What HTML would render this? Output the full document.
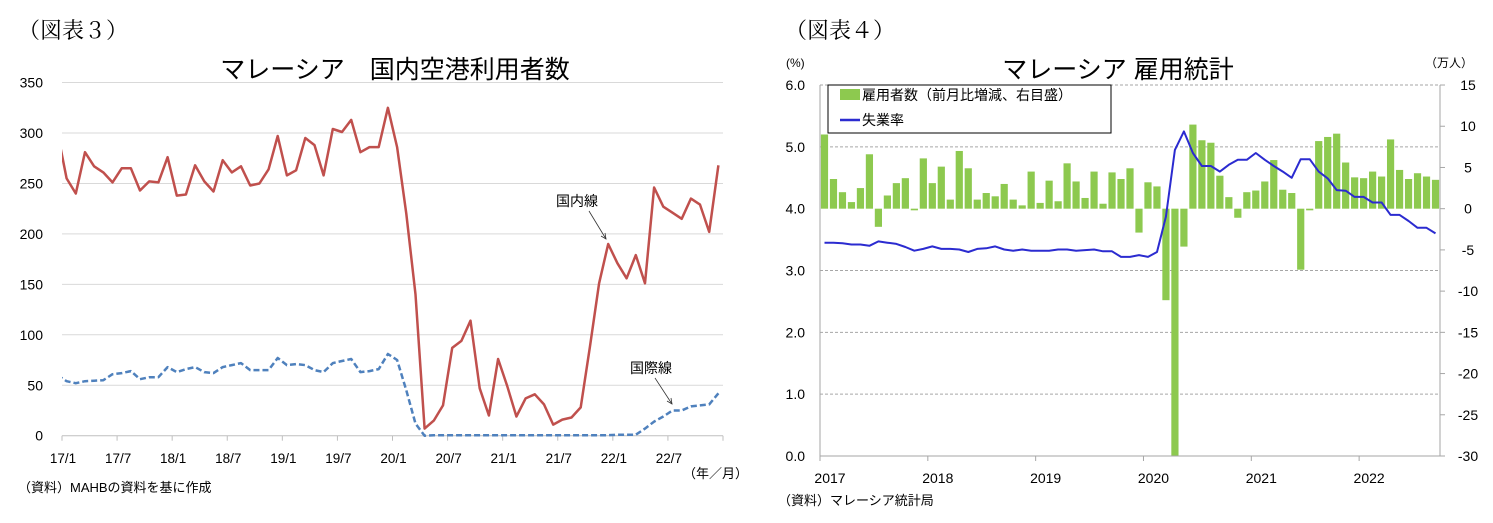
<!DOCTYPE html>
<html><head><meta charset="utf-8"><style>
html,body{margin:0;padding:0;background:#fff;}
svg{display:block;font-family:"Liberation Sans","Noto Sans CJK JP",sans-serif;}
</style></head><body>
<svg id="s" width="1493" height="523" viewBox="0 0 1493 523">
<defs>
<clipPath id="lc"><rect x="62" y="70" width="661" height="370"/></clipPath>
</defs>
<text x="18" y="38" font-size="22" font-family="Liberation Serif,'Noto Serif CJK SC',serif">（図表３）</text>
<text x="395" y="78" font-size="25" text-anchor="middle">マレーシア　国内空港利用者数</text>
<text x="785" y="38" font-size="22" font-family="Liberation Serif,'Noto Serif CJK SC',serif">（図表４）</text>
<text x="1118" y="78" font-size="25" text-anchor="middle">マレーシア 雇用統計</text>
<g id="L"></g>
<g id="R"></g>
<text x="18" y="492" font-size="13">（資料）MAHBの資料を基に作成</text>
<text x="683" y="478" font-size="13">（年／月）</text>
<text x="778" y="505" font-size="13">（資料）マレーシア統計局</text>
<text x="786" y="67" font-size="12">(%)</text>
<text x="1425" y="67" font-size="12">（万人）</text>
<text x="556" y="206" font-size="14">国内線</text>
<text x="630" y="373" font-size="14">国際線</text>
<line x1="589" y1="211" x2="606" y2="239" stroke="#333" stroke-width="0.8"/>
<path d="M601,236 L606,239 L605,233" fill="none" stroke="#333" stroke-width="0.8"/>
<line x1="655" y1="378" x2="672" y2="404" stroke="#333" stroke-width="0.8"/>
<path d="M667,401 L672,404 L671,398" fill="none" stroke="#333" stroke-width="0.8"/>
<g>
<rect x="828" y="85" width="283" height="48" fill="#fff" stroke="#000" stroke-width="1"/>
<rect x="840" y="89" width="20" height="11" fill="#8dc94f"/>
<text x="862" y="100" font-size="14">雇用者数（前月比増減、右目盛）</text>
<line x1="840" y1="120" x2="860" y2="120" stroke="#2b2bd0" stroke-width="2.5"/>
<text x="862" y="125" font-size="14">失業率</text>
</g>
</svg>
<script>
// Left chart data (thousand passengers), 16/12 .. 22/12
const leftTicks=[0,50,100,150,200,250,300,350];
const leftXLabels=['17/1','17/7','18/1','18/7','19/1','19/7','20/1','20/7','21/1','21/7','22/1','22/7'];
const domestic=[301,255,240,281,267,261,251,265,265,243,252,251,276,238,239,268,252,242,273,261,267,248,250,264,297,258,263,295,288,258,304,301,313,281,286,286,325,286,220,140,7,15,30,87,94,114,47,20,76,49,19,37,41,31,11,16,18,28,88,151,190,171,156,179,151,246,227,221,215,235,229,202,268];
const international=[60,54,52,54,54.5,55,61,62,64,56,58,58,68,63,66,68,63,62,68,70,72,65,65,65,77,70,71,70,65,63,72,74,76,63,64,66,81,75,45,12,0,0.5,0.5,0.5,0.5,0.5,0.5,0.5,0.5,0.5,0.5,0.5,0.5,0.5,0.5,0.5,0.5,0.5,0.5,0.5,0.5,1,1,1,7,14,19,25,25,29,30,31,42];
// Right chart data, 2017/1 .. 2022/9
const leftPctTicks=['0.0','1.0','2.0','3.0','4.0','5.0','6.0'];
const rightTicks=[-30,-25,-20,-15,-10,-5,0,5,10,15];
const years=['2017','2018','2019','2020','2021','2022'];
const employment=[9.0,3.6,2.0,0.8,2.5,6.6,-2.2,1.6,3.1,3.7,-0.2,6.1,3.1,5.1,1.1,7.0,4.9,1.1,1.9,1.5,3.0,1.1,0.4,4.5,0.7,3.4,0.9,5.5,3.3,1.3,4.5,0.6,4.4,3.6,4.9,-2.9,3.2,2.7,-11.1,-30,-4.6,10.2,8.3,8.0,4.0,1.4,-1.1,2.0,2.2,3.3,5.9,2.3,1.9,-7.4,-0.2,8.2,8.7,9.1,5.6,3.8,3.7,4.5,3.9,8.4,4.7,3.6,4.3,3.9,3.5];
const unemployment=[3.45,3.45,3.44,3.42,3.42,3.40,3.47,3.45,3.43,3.38,3.32,3.35,3.39,3.35,3.35,3.34,3.30,3.35,3.36,3.39,3.34,3.32,3.34,3.32,3.32,3.32,3.34,3.34,3.32,3.33,3.34,3.31,3.31,3.22,3.22,3.25,3.22,3.30,3.87,4.95,5.25,4.90,4.69,4.69,4.60,4.71,4.79,4.79,4.90,4.79,4.69,4.60,4.50,4.80,4.80,4.60,4.49,4.30,4.29,4.19,4.19,4.10,4.10,3.90,3.90,3.80,3.69,3.69,3.60];

const NS='http://www.w3.org/2000/svg';
function mk(tag,attrs,parent,txt){const e=document.createElementNS(NS,tag);for(const k in attrs)e.setAttribute(k,attrs[k]);if(txt!==undefined)e.textContent=txt;parent.appendChild(e);return e;}
const L=document.getElementById('L'), R=document.getElementById('R');

// Left axes
const lx0=62,lx1=723,ly0=435.7,lyPer=1.009,nCat=72,cw=(lx1-lx0)/nCat;
const lX=i=>lx0+cw*(i+0.5);
const lY=v=>ly0-v*lyPer;
leftTicks.forEach(t=>{
  if(t>0){const g=mk('line',{x1:lx0,x2:lx1,y1:lY(t),y2:lY(t),stroke:'#d9d9d9','stroke-width':1},L);
  
  }
  const tx=mk('text',{x:43,y:lY(t)+5,'font-size':14,'text-anchor':'end'},L,String(t));
  
  
});
const la=mk('line',{x1:lx0,x2:lx1,y1:ly0,y2:ly0,stroke:'#bfbfbf','stroke-width':1},L);


for(let k=0;k<=12;k++){const x=lx0+cw*6*k;mk('line',{x1:x,x2:x,y1:ly0,y2:ly0+5,stroke:'#bfbfbf'},L);}
leftXLabels.forEach((s,k)=>{const t=mk('text',{x:lx0+cw*6*k+1,y:463,'font-size':13.5,'text-anchor':'middle'},L,s);

});
function pts(arr){return arr.map((v,j)=>lX(j-1).toFixed(1)+','+lY(v).toFixed(1)).join(' ');}
const dl=mk('polyline',{points:pts(domestic),fill:'none',stroke:'#c0504d','stroke-width':2.5,'clip-path':'url(#lc)','stroke-linejoin':'round'},L);


const il=mk('polyline',{points:pts(international),fill:'none',stroke:'#4f81bd','stroke-width':2.5,'stroke-dasharray':'6,3','clip-path':'url(#lc)','stroke-linejoin':'round'},L);



// Right axes
const rx0=820,rx1=1440,ry0=456,pctPer=61.83,rZero=ry0-4*pctPer,rPer=pctPer*4/30,rcw=(rx1-rx0)/69;
const rX=i=>rx0+rcw*(i+0.5);
const pY=v=>ry0-v*pctPer;
const eY=v=>rZero-v*rPer;
leftPctTicks.forEach((s,k)=>{
  if(k>0&&k!==4){const g=mk('line',{x1:rx0,x2:rx1,y1:pY(k),y2:pY(k),stroke:'#a6a6a6','stroke-width':1,'stroke-dasharray':'3,2'},R);
  
  }
  const t=mk('text',{x:805,y:pY(k)+5,'font-size':14,'text-anchor':'end'},R,s);
  
  
});
rightTicks.forEach(v=>{
  mk('line',{x1:rx1,x2:rx1+5,y1:eY(v),y2:eY(v),stroke:'#a6a6a6'},R);
  const t=mk('text',{x:1468,y:eY(v)+5,'font-size':14,'text-anchor':'middle'},R,String(v));
  
  
});
employment.forEach((v,i)=>{
  const y=Math.min(eY(v),rZero),h=Math.abs(eY(v)-rZero);
  const b=mk('rect',{x:rX(i)-3.6,y:y,width:7.2,height:Math.max(h,0.5),fill:'#8dc94f'},R);
  
  
});
const ya=mk('line',{x1:rx0,x2:rx0,y1:85,y2:ry0,stroke:'#a6a6a6'},R);


const ya2=mk('line',{x1:rx1,x2:rx1,y1:85,y2:ry0,stroke:'#a6a6a6'},R);


const xa=mk('line',{x1:rx0,x2:rx1,y1:ry0,y2:ry0,stroke:'#a6a6a6'},R);


years.forEach((s,k)=>{const x=rx0+rcw*12*k;mk('line',{x1:x,x2:x,y1:ry0,y2:ry0+5,stroke:'#a6a6a6'},R);
const t=mk('text',{x:x+10,y:483,'font-size':14,'text-anchor':'middle'},R,s);

});
const ul=mk('polyline',{points:unemployment.map((v,i)=>rX(i).toFixed(1)+','+pY(v).toFixed(1)).join(' '),fill:'none',stroke:'#2b2bd0','stroke-width':2,'stroke-linejoin':'round'},R);


</script>
</body></html>
